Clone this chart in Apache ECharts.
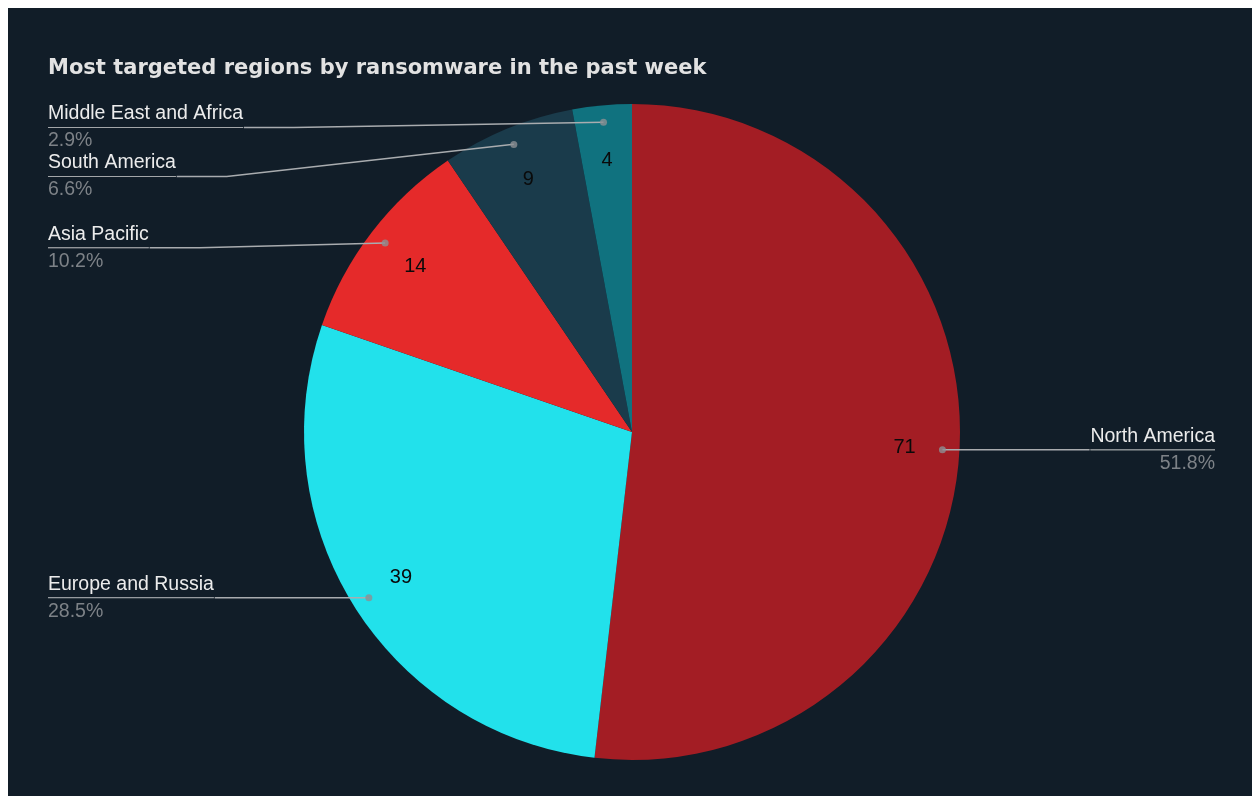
<!DOCTYPE html>
<html>
<head>
<meta charset="utf-8">
<script src="https://cdn.jsdelivr.net/npm/echarts@6/dist/echarts.min.js"></script>
<style>
  html, body { margin: 0; padding: 0; background: #ffffff; }
  #chart { position: absolute; left: 8px; top: 8px; width: 1244px; height: 788px; }
</style>
</head>
<body>
<div id="chart"></div>
<script>
// Weekly ransomware victims by region
const regions = ['North America', 'Europe and Russia', 'Asia Pacific', 'South America', 'Middle East and Africa'];
const attacks = [71, 39, 14, 9, 4];
const sliceColors = ['#a31d24', '#22e1eb', '#e52a2a', '#1a3b4b', '#10727f'];
const titleText = 'Most targeted regions by ransomware in the past week';

const FONT = '"Liberation Sans", Arial, sans-serif';
const TITLE_FONT = '"DejaVu Sans", "Liberation Sans", sans-serif';
const BG = '#111d28';
const LINE = '#a9acaf';

// pie geometry (container pixels)
const CX = 624, CY = 424, R = 328;
const LABEL_TOP = 95, LABEL_LEFT = 40, LABEL_RIGHT = 37;
const ELBOW = 50; // horizontal run of a leader line past the label text

const total = attacks.reduce((a, b) => a + b, 0);
const pieData = regions.map((n, i) => ({ name: n, value: attacks[i], itemStyle: { color: sliceColors[i] } }));
const ghostData = regions.map((n, i) => ({ name: n, value: attacks[i] }));

// angular middle of every slice, for the leader-line dots
const mids = [];
attacks.reduce((acc, v) => { mids.push(acc + v / 2); return acc + v; }, 0);

const chart = echarts.init(document.getElementById('chart'), null, { renderer: 'canvas' });

chart.setOption({
  backgroundColor: BG,
  animation: false,
  title: {
    text: titleText,
    left: 40,
    top: 50,
    padding: 0,
    textStyle: { fontFamily: TITLE_FONT, fontSize: 21, fontWeight: 'bold', color: '#e2e2e2' }
  },
  polar: { center: [CX, CY], radius: R },
  angleAxis: { type: 'value', min: 0, max: total, startAngle: 90, clockwise: true, show: false },
  radiusAxis: { type: 'value', min: 0, max: 1, show: false },
  series: [
    {
      // coloured slices
      type: 'pie',
      z: 2,
      center: [CX, CY],
      radius: R,
      startAngle: 90,
      clockwise: true,
      silent: true,
      label: { show: false },
      labelLine: { show: false },
      itemStyle: { borderWidth: 0 },
      data: pieData
    },
    {
      // category labels with percentages at the chart edges
      type: 'pie',
      z: 3,
      left: LABEL_LEFT,
      right: LABEL_RIGHT,
      top: LABEL_TOP,
      bottom: 0,
      center: [CX - LABEL_LEFT, CY - LABEL_TOP],
      radius: 311,
      startAngle: 90,
      clockwise: true,
      silent: true,
      percentPrecision: 1,
      itemStyle: { color: 'rgba(0,0,0,0)' },
      label: {
        show: true,
        position: 'outer',
        alignTo: 'edge',
        edgeDistance: 0,
        distanceToLabelLine: 0,
        formatter: p => '{name|' + p.name + '}\n{hr|}\n{pct|' + p.percent.toFixed(1) + '%}',
        rich: {
          name: { fontFamily: FONT, fontSize: 19.5, lineHeight: 27, color: '#ececec' },
          hr: { width: '100%', height: 0, borderWidth: 0.8, borderColor: LINE },
          pct: { fontFamily: FONT, fontSize: 19.5, lineHeight: 27, color: '#7d8287' }
        }
      },
      labelLine: {
        show: true,
        length: 0,
        length2: 50,
        lineStyle: { color: LINE, width: 1.5 }
      },
      // keep the leader line flat for a short run beside the text, then bend to the dot
      labelLayout: function (params) {
        const pts = params.labelLinePoints;
        if (!pts || pts.length < 2) return {};
        const p1 = pts[0];
        const p3 = pts[pts.length - 1];
        const dir = p3[0] < p1[0] ? 1 : -1;
        const p2 = [p3[0] + dir * ELBOW, p3[1]];
        return { labelLinePoints: [p1.slice(), p2, p3.slice()] };
      },
      data: ghostData
    },
    {
      // value numbers inside the slices
      type: 'pie',
      z: 4,
      center: [CX, CY],
      radius: [212, R],
      startAngle: 90,
      clockwise: true,
      silent: true,
      itemStyle: { color: 'rgba(0,0,0,0)' },
      label: {
        show: true,
        position: 'inside',
        formatter: p => String(p.value),
        fontFamily: FONT,
        fontSize: 20,
        color: '#0a0a0a'
      },
      labelLine: { show: false },
      data: ghostData
    },
    {
      // dots where the leader lines start
      type: 'scatter',
      coordinateSystem: 'polar',
      silent: true,
      symbol: 'circle',
      symbolSize: 7,
      z: 10,
      itemStyle: { color: '#8c9094' },
      data: mids.map(m => [0.948, m])
    }
  ]
});
</script>
</body>
</html>
